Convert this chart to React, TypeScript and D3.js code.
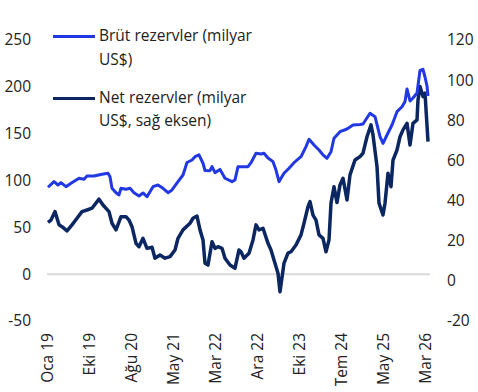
import React from 'react'
import * as d3 from 'd3'

const W = 478
const H = 392
const FONT = "'Segoe UI', 'Open Sans', 'Noto Sans', sans-serif"

// week index from start of series (Jan 2019) -> value
const grossWeeks = [0, 6, 10, 13, 18, 23, 31, 36, 39, 46, 54, 60, 62, 64, 68, 71, 73, 78, 82, 86, 91, 95, 99, 105, 110, 115, 120, 124, 130, 135, 139, 144, 147, 151, 155, 157, 162, 164, 167, 172, 177, 184, 187, 190, 195, 200, 203, 208, 213, 216, 220, 225, 228, 231, 236, 241, 246, 253, 258, 261, 266, 271, 275, 279, 283, 286, 292, 299, 305, 312, 315, 322, 327, 332, 335, 339, 344, 349, 354, 357, 359, 362, 365, 369, 372, 375, 377, 379, 380]
const grossValues = [92.8, 98.8, 95.2, 97.7, 93.4, 97.0, 102.4, 101.3, 104.8, 104.8, 106.7, 107.7, 104.1, 91.7, 87.0, 84.6, 91.7, 90.6, 91.7, 87.0, 83.5, 86.7, 82.7, 93.4, 95.2, 91.7, 87.0, 89.9, 98.8, 105.9, 119.2, 121.9, 125.4, 127.3, 118.4, 110.7, 110.5, 114.8, 108.4, 111.8, 102.4, 98.8, 100.6, 114.8, 114.8, 114.8, 119.0, 129.1, 128.3, 129.1, 124.1, 120.1, 111.2, 98.8, 107.7, 113.1, 119.0, 125.4, 136.1, 144.0, 137.9, 132.6, 127.3, 123.7, 130.8, 145.1, 152.1, 155.0, 159.3, 159.8, 160.3, 171.8, 168.1, 146.8, 139.7, 148.6, 159.3, 173.5, 178.8, 184.2, 197.7, 184.9, 188.1, 193.4, 217.5, 218.7, 210.5, 200.9, 190.2]

const netWeeks = [0, 3, 7, 11, 14, 19, 24, 29, 34, 39, 44, 51, 55, 61, 64, 68, 73, 78, 81, 84, 88, 91, 95, 99, 104, 107, 112, 117, 122, 127, 130, 135, 142, 145, 149, 152, 155, 157, 160, 164, 167, 170, 174, 177, 182, 187, 191, 193, 196, 201, 205, 208, 211, 215, 220, 223, 226, 230, 232, 236, 240, 243, 248, 253, 256, 260, 262, 265, 268, 271, 275, 278, 281, 283, 286, 289, 292, 295, 299, 302, 307, 312, 315, 319, 323, 325, 329, 331, 335, 337, 340, 343, 345, 349, 352, 355, 359, 362, 365, 369, 370, 372, 375, 377, 380]
const netValues = [29.1, 30.3, 34.5, 27.9, 27.0, 24.9, 27.9, 31.2, 34.5, 35.3, 36.2, 40.7, 37.8, 34.5, 28.7, 25.4, 32.0, 32.0, 30.3, 27.0, 18.7, 17.0, 21.2, 16.2, 16.7, 11.3, 12.9, 11.3, 12.1, 15.4, 21.2, 25.4, 28.7, 31.2, 32.3, 25.4, 20.4, 8.8, 7.9, 19.5, 16.2, 17.0, 16.2, 11.3, 7.9, 6.3, 15.4, 14.5, 11.3, 13.8, 20.4, 27.9, 25.4, 26.2, 18.7, 15.4, 10.4, 3.8, -5.4, 8.8, 13.8, 14.5, 17.9, 22.9, 28.7, 37.0, 39.5, 32.8, 30.3, 22.9, 21.2, 14.5, 20.4, 38.7, 46.9, 39.0, 47.8, 51.1, 40.3, 52.8, 60.2, 61.9, 63.6, 71.8, 77.7, 72.7, 56.9, 38.7, 32.8, 38.7, 53.6, 46.9, 60.2, 65.2, 71.8, 75.2, 78.5, 67.7, 78.5, 80.2, 90.1, 96.8, 91.8, 93.5, 69.4]

const tickWeeks = [0, 42, 84, 126, 168, 210, 252, 294, 336, 378]
const tickLabels = ['Oca 19', 'Eki 19', 'Ağu 20', 'May 21', 'Mar 22', 'Ara 22', 'Eki 23', 'Tem 24', 'May 25', 'Mar 26']
const leftTicks = [-50, 0, 50, 100, 150, 200, 250]
const rightTicks = [-20, 0, 20, 40, 60, 80, 100, 120]

const BLUE = '#2138e2'
const NAVY = '#0b2660'

const plot = { left: 48, right: 428, top: 40, bottom: 321 }

export default function App() {
  const x = d3.scaleLinear().domain([0, 380]).range([plot.left, plot.right])
  const yL = d3.scaleLinear().domain([-50, 250]).range([plot.bottom, plot.top])
  const yR = d3.scaleLinear().domain([-20, 120]).range([plot.bottom, plot.top])

  const gross = grossWeeks.map((w, i) => [w, grossValues[i]] as [number, number])
  const net = netWeeks.map((w, i) => [w, netValues[i]] as [number, number])

  const grossLine = d3.line<[number, number]>().x(d => x(d[0])).y(d => yL(d[1]))
  const netLine = d3.line<[number, number]>().x(d => x(d[0])).y(d => yR(d[1]))

  return (
    <svg width={W} height={H} style={{ position: 'absolute', left: 0, top: 0, fontFamily: FONT }}>
      <rect width={W} height={H} fill="#fff" />
      {/* zero line */}
      <line x1={47} x2={430} y1={yL(0)} y2={yL(0)} stroke="#d9d9d9" strokeWidth={2} />
      {leftTicks.map(t => (
        <text key={t} x={31} y={yL(t)} dy="0.35em" textAnchor="end" fontSize={15.5} fill="#222">{t}</text>
      ))}
      {rightTicks.map(t => (
        <text key={t} x={447} y={yR(t)} dy="0.35em" textAnchor="start" fontSize={15.5} fill="#222">{t}</text>
      ))}
      {tickWeeks.map((w, i) => (
        <text key={w} transform={`translate(${x(w)},333) rotate(-90)`} dy="0.35em" textAnchor="end" fontSize={15.5} fill="#222">{tickLabels[i]}</text>
      ))}
      <path d={netLine(net) || ''} fill="none" stroke={NAVY} strokeWidth={3.5} strokeLinejoin="round" />
      <path d={grossLine(gross) || ''} fill="none" stroke={BLUE} strokeWidth={3} strokeLinejoin="round" />
      {/* legend */}
      <line x1={53} x2={95} y1={36.5} y2={36.5} stroke={BLUE} strokeWidth={3} />
      <text x={99} y={36} dy="0.35em" fontSize={15.5} fill="#222">Brüt rezervler (milyar</text>
      <text x={99} y={60} dy="0.35em" fontSize={15.5} fill="#222">US$)</text>
      <line x1={53} x2={95} y1={98.5} y2={98.5} stroke={NAVY} strokeWidth={3} />
      <text x={99} y={98} dy="0.35em" fontSize={15.5} fill="#222">Net rezervler (milyar</text>
      <text x={99} y={121} dy="0.35em" fontSize={15.5} fill="#222">US$, sağ eksen)</text>
    </svg>
  )
}
